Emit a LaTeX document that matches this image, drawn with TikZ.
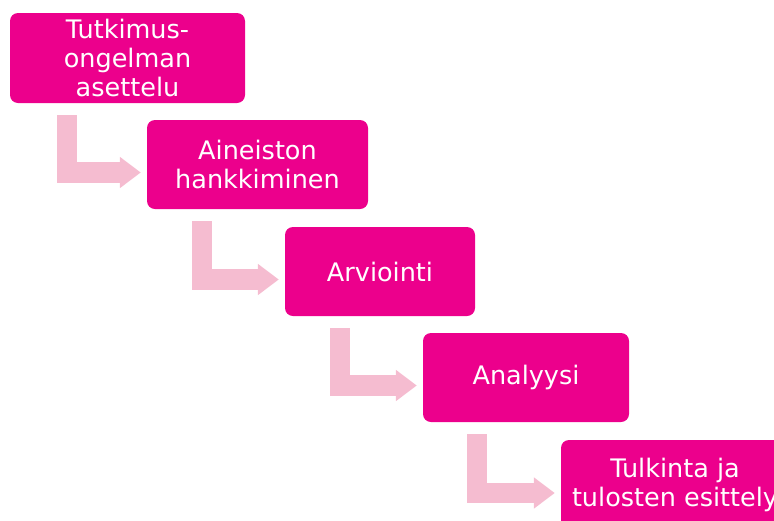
\documentclass[tikz,border=0pt]{standalone}
\usepackage{fontspec}
\setmainfont{DejaVu Sans}
\usetikzlibrary{arrows.meta, calc}
\definecolor{vaihe}{RGB}{236,0,140}
\definecolor{nuoli}{RGB}{245,188,208}
\tikzset{
    vaihe/.style={fill=vaihe, rounded corners=8pt, text=white, align=center,
        font=\fontsize{25.5}{29}\selectfont, inner sep=0pt},
    nuoli/.style={draw=nuoli, line width=20.5pt, line join=miter,
        -{Triangle[length=21pt, width=30pt]}}
}

\begin{document}
\begin{tikzpicture}[x=1pt, y=-1pt]
        \useasboundingbox (0, 0) rectangle (774, 520);
        \clip (0, 0) rectangle (774, 520);
        \node[vaihe, minimum width=235pt, minimum height=90pt] (b1) at (127.5, 58) {Tutkimus-\\ongelman\\asettelu};
        \node[vaihe, minimum width=221pt, minimum height=89pt] (b2) at (257.5, 164.5) {Aineiston\\hankkiminen};
        \node[vaihe, minimum width=190pt, minimum height=89pt] (b3) at (380, 271.5) {Arviointi};
        \node[vaihe, minimum width=206pt, minimum height=89pt] (b4) at (526, 377.5) {Analyysi};
        \node[vaihe, minimum width=228pt, minimum height=90pt] (b5) at (675, 485) {Tulkinta ja\\tulosten esittely};
        \foreach \a/\b/\x in {b1/b2/57, b2/b3/55, b3/b4/55, b4/b5/54} {
            \draw[nuoli] ([xshift=\x pt, yshift=-12pt]\a.south west) |- ([xshift=-6pt, yshift=-8pt]\b.west);
        }
    \end{tikzpicture}
\end{document}
